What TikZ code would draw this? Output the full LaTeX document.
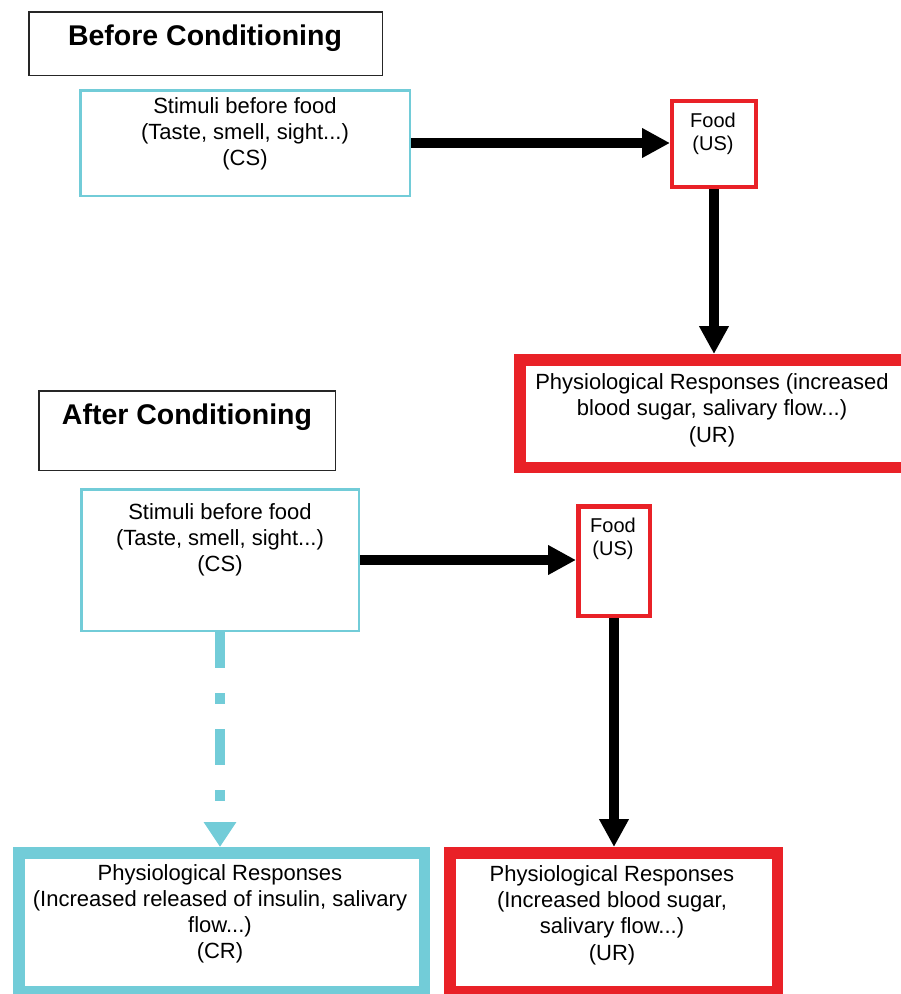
\documentclass[tikz,border=0pt]{standalone}
\usepackage{fontspec}
\setmainfont{Liberation Sans}
\usetikzlibrary{arrows.meta}
\definecolor{cueblue}{RGB}{114,204,216}
\definecolor{usred}{RGB}{233,33,39}
\tikzset{
  panel/.style={draw, rectangle, inner sep=0pt, anchor=north west},
  titlebox/.style={panel, draw=black!85, line width=1.5pt},
  cuebox/.style={panel, draw=cueblue, line width=2.5pt},
  foodbox/.style={panel, draw=usred, line width=4pt},
  urbox/.style={panel, draw=usred, line width=11.5pt},
  crbox/.style={panel, draw=cueblue, line width=11.5pt},
  % multi-line labels are placed by the baseline of their last line
  titletext/.style={font=\fontsize{28.5}{33}\selectfont\bfseries, anchor=base, inner sep=0pt},
  bodytext/.style={font=\fontsize{22}{26}\selectfont, align=center, anchor=base, inner sep=0pt},
  foodtext/.style={font=\fontsize{20}{23}\selectfont, align=center, anchor=base, inner sep=0pt},
  flow/.style={line width=10pt, -{Triangle[length=28pt, width=28pt]}},
  cueflow/.style={draw=cueblue, line width=10pt,
    dash pattern=on 36pt off 25pt on 11pt off 25pt,
    -{Triangle[length=25pt, width=31pt]}},
}
\begin{document}
\begin{tikzpicture}[x=1pt, y=-1pt]
\useasboundingbox (0,0) rectangle (901,994);

% Before conditioning
\node[titlebox, minimum width=353.5pt, minimum height=63.5pt] (bctitle) at (28,11) {};
\node[titletext] (bclabel) at (205,45) {Before Conditioning};

\node[cuebox, minimum width=329.5pt, minimum height=105.5pt] (stim1) at (79,89) {};
\node[bodytext] (stim1text) at (245,165) {Stimuli before food\\(Taste, smell, sight...)\\(CS)};

\node[foodbox, minimum width=84pt, minimum height=86pt] (food1) at (670,99) {};
\node[foodtext] (food1text) at (713,150) {Food\\(US)};

\node[urbox, minimum width=386.5pt, minimum height=107.5pt] (ur1) at (514,354) {};
\node[bodytext, font=\fontsize{22}{26.5}\selectfont] (ur1text) at (712,442)
  {Physiological Responses (increased\\blood sugar, salivary flow...)\\(UR)};

\draw[flow] (stim1.east) -- (stim1.east -| food1.west);
\draw[flow] (food1.south) -- (food1.south |- ur1.north);

% After conditioning
\node[titlebox, minimum width=296.5pt, minimum height=79.5pt] (actitle) at (38,390) {};
\node[titletext] (aclabel) at (187,424) {After Conditioning};

\node[cuebox, minimum width=277.5pt, minimum height=141.5pt] (stim2) at (80,488) {};
\node[bodytext] (stim2text) at (220,571) {Stimuli before food\\(Taste, smell, sight...)\\(CS)};

\node[foodbox, line width=4.5pt, minimum width=71.5pt, minimum height=109.5pt] (food2) at (576,504) {};
\node[foodtext] (food2text) at (613,555) {Food\\(US)};

\node[crbox, minimum width=405.5pt, minimum height=138.5pt] (cr) at (13,847) {};
\node[bodytext] (crtext) at (220,958)
  {Physiological Responses\\(Increased released of insulin, salivary\\flow...)\\(CR)};

\node[urbox, minimum width=327.5pt, minimum height=138.5pt] (ur2) at (444,847) {};
\node[bodytext, font=\fontsize{22}{26.3}\selectfont] (ur2text) at (612,960)
  {Physiological Responses\\(Increased blood sugar,\\salivary flow...)\\(UR)};

\draw[flow] (stim2.east) -- (stim2.east -| food2.west);
\draw[flow] (food2.south) -- (food2.south |- ur2.north);
\draw[cueflow] (stim2.south) -- (stim2.south |- cr.north);
\end{tikzpicture}
\end{document}
